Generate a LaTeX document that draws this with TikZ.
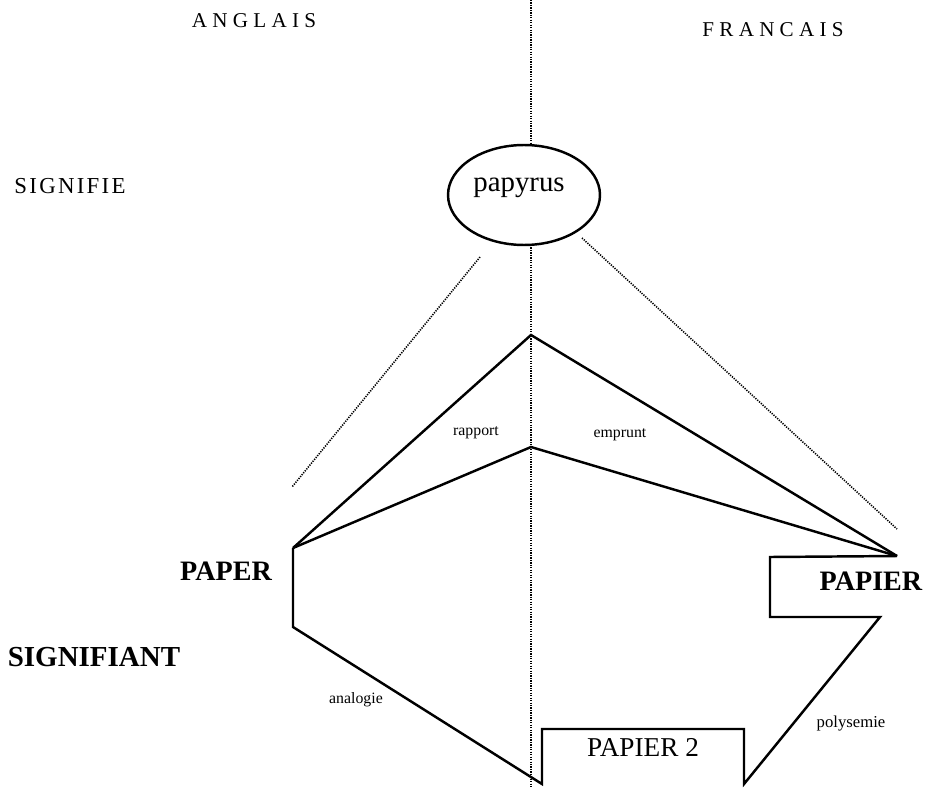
\documentclass[tikz,border=0pt]{standalone}
\usepackage{fontspec}
\setmainfont{Liberation Serif}
\newfontfamily\espace[LetterSpace=25]{Liberation Serif}
\newfontfamily\demiespace[LetterSpace=10]{Liberation Serif}
\usetikzlibrary{shapes.geometric}

\begin{document}
\begin{tikzpicture}[x=0.02cm,y=-0.02cm,
        trait/.style={line width=1.4pt,line join=miter},
        pointille/.style={line width=0.9pt,dash pattern=on 0.7pt off 0.7pt},
        etiq/.style={inner sep=0pt},
        petit/.style={etiq,anchor=base,font=\fontsize{9}{11}\selectfont}]
        \useasboundingbox (0,0) rectangle (928,787);

        % langues et niveaux
        \node[etiq,font=\espace\fontsize{12}{14}\selectfont] (anglais) at (254,21) {ANGLAIS};
        \node[etiq,font=\espace\fontsize{12}{14}\selectfont] (francais) at (773,30) {FRANCAIS};
        \node[etiq,font=\demiespace\fontsize{13}{15}\selectfont] (signifie) at (70,186) {SIGNIFIE};
        \node[etiq,font=\bfseries\fontsize{16.5}{19}\selectfont] (signifiant) at (94,657) {SIGNIFIANT};

        % signifie
        \node[draw,ellipse,line width=1.4pt,minimum width=3.04cm,minimum height=2cm] (bulle) at (524,195) {};
        \node[etiq,anchor=base,font=\fontsize{16.4}{19}\selectfont] (papyrus) at (519,192) {papyrus};

        % separation des langues
        \draw[pointille] (531,0) -- (531,145);
        \draw[pointille] (531,245) -- (531,787);
        \draw[pointille] (480,257) -- (292,487);
        \draw[pointille] (582,238) -- (897,529);

        % sommets
        \coordinate (sommet) at (531,335);
        \coordinate (creux) at (531,447);
        \coordinate (paperhaut) at (293,548);
        \coordinate (paperbas) at (293,627);
        \coordinate (pointe) at (897,556);

        % rapport et emprunt
        \draw[trait] (paperhaut) -- (sommet) -- (pointe);
        \draw[trait] (paperhaut) -- (creux) -- (pointe);

        % PAPIER, PAPIER 2, PAPER
        \draw[trait] (pointe) -- (770,557) -- (770,617) -- (880,617) -- (744,784)
            -- (744,729) -- (542,729) -- (542,784) -- (paperbas) -- (paperhaut);

        \node[etiq,font=\bfseries\fontsize{16}{19}\selectfont] (paper) at (226,571) {PAPER};
        \node[etiq,font=\bfseries\fontsize{16}{19}\selectfont] (papier) at (871,581) {PAPIER};
        \node[etiq,font=\fontsize{15.5}{18}\selectfont] (papierdeux) at (643,747) {PAPIER 2};

        % relations
        \node[petit] (rapport) at (476,435) {rapport};
        \node[petit] (emprunt) at (620,437) {emprunt};
        \node[petit] (analogie) at (356,703) {analogie};
        \node[petit,font=\fontsize{9.5}{11}\selectfont] (polysemie) at (851,727) {polysemie};
    \end{tikzpicture}
\end{document}
